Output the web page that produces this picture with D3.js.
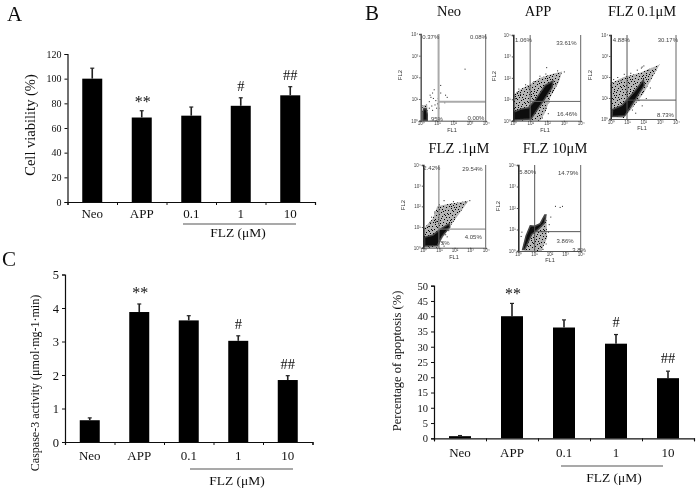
<!DOCTYPE html>
<html><head><meta charset="utf-8">
<script src="https://cdn.jsdelivr.net/npm/d3@7/dist/d3.min.js"></script>
<style>html,body{margin:0;background:#fff}svg{display:block}</style></head>
<body><svg id="c" width="697" height="491"></svg>
<script>
// ---------- bar chart data ----------
const categories = ["Neo","APP","0.1","1","10"];
const viability = [100,68.5,70,78,86.5];
const viabilityTop = [108.5,74,77,84.5,93.5];
const viabilityMarks = ["","**","","#","##"];
const caspase = [0.65,3.88,3.63,3.02,1.85];
const caspaseTop = [0.72,4.12,3.77,3.17,1.98];
const caspaseMarks = ["","**","","#","##"];
const apoptosis = [0.7,40,36.3,31,19.7];
const apoptosisTop = [0.9,44.2,38.8,34,22];
const apoptosisMarks = ["","**","","#","##"];
const viabilityTicks = [0,20,40,60,80,100,120];
const caspaseTicks = [0,1,2,3,4,5];
const apoptosisTicks = [0,5,10,15,20,25,30,35,40,45,50];
const groupLabel = "FLZ (μM)";

// ---------- flow cytometry data, in decades of FL1 / FL2 ----------
const flowTitles = ["Neo","APP","FLZ 0.1μM","FLZ .1μM","FLZ 10μM"];
const flowTicks = [0,1,2,3,4];
const flowGates = [[1.1,0.88],[1.0,0.9],[1.0,0.9],[1.0,0.9],[1.05,0.9]];
const flowPercents = [
 [["0.37%",.62,3.85],["0.08%",3.55,3.85],[".95%",.95,.1],["0.00%",3.4,.15]],
 [["1.06%",.6,3.75],["33.61%",3.15,3.65],["16.46%",3.2,.32]],
 [["4.88%",.65,3.75],["30.17%",3.5,3.75],["8.73%",3.35,.2]],
 [["2.42%",.55,3.85],["29.54%",3.15,3.8],["4.05%",3.2,.5],["75%",1.3,.25]],
 [["5.80%",.6,3.7],["14.79%",3.2,3.65],["3.86%",3,.45],["3.8%",3.9,.05]]
];
const flowCloud = [
 [[.1,0],[.1,.7],[.4,.75],[.45,0]],
 [[0,0],[0,1.2],[.5,1.5],[1,1.7],[1.6,2],[2.4,2.2],[2.9,2.3],[2.7,1.8],[2.2,1.1],[1.9,.4],[1.6,0]],
 [[0,.1],[0,1.7],[.8,2],[1.8,2.2],[3,2.6],[2,1.2],[1.2,.4],[.8,.05]],
 [[0,0],[0,.9],[.6,1.4],[.9,2],[1.5,2.1],[2.3,2.2],[2.9,2.27],[1.5,.8],[1.1,.3],[1,0]],
 [[.4,0],[.85,.8],[1.3,1],[1.8,1.6],[1.85,.6],[1.6,.2],[1.5,0]]
];
const flowDense = [
 [[.14,.02],[.14,.4],[.2,.55],[.33,.55],[.4,.3],[.4,.02]],
 [[.03,.03],[.03,.4],[.5,.55],[.9,.6],[1.3,.95],[1.9,1.65],[2.35,1.85],[2.3,1.55],[1.8,.95],[1.3,.38],[1.05,.08]],
 [[.08,.12],[.12,.45],[.7,.65],[1.5,1.35],[2,1.85],[2.05,1.6],[1.2,.55],[.85,.15]],
 [[.08,.08],[.08,.5],[.6,.6],[1.1,.9],[1.65,1.15],[1.7,1],[1.2,.55],[.9,.1]],
 [[.28,.07],[.5,.7],[.77,1.17],[1.06,1.15],[1.4,1.27],[1.7,1.67],[1.77,1.67],[1.67,1.3],[1.28,1.02],[.85,.77],[.41,.07]]
];
const flowDots = [
 [[.5,.9],[.6,1.1],[.7,1.3],[.8,1.45],[.55,1.2],[.75,1.05],[.9,.95],[1,.8],[.85,.75],[.65,.7],[1.05,1.05],[.95,.6],[1.2,1.3],[1.2,1.65],[1.5,1.2],[1.6,1.1],[1.45,.85],[2.7,2.4],[.5,.6],[.7,.5],[1.1,.6]],
 [[.2,1.35],[.4,1.25],[.7,1.7],[.9,1.55],[1.2,1.85],[1.55,2.1],[1.9,2.2],[2.6,2.35],[3,2.3],[1.95,2.5],[2.3,1.4],[2.5,1.7],[2.1,.9],[1.9,.6],[2.05,.35],[1.7,.15],[.3,1.5],[.1,1.05]],
 [[.15,1.9],[.4,2],[.8,2.15],[1.2,2.2],[1.6,2.35],[1.9,2.5],[2,2.55],[1.85,2.45],[2.3,2.35],[.6,1.85],[1.3,.45],[1.5,.3],[1.9,.65],[1.7,.9],[2.15,1],[2.4,1.5]],
 [[.5,1.5],[.7,1.75],[1,2.1],[1.3,2.3],[.8,1.3],[1.9,2.25],[2.4,2.15],[2.95,2.3],[2.7,2.2],[.3,1.05],[.4,1.25],[1.4,.65],[1.5,.55],[1.2,.25],[1.3,.1],[1.6,.85]],
 [[2.35,2.1],[2.65,2.05],[2.8,2.1],[.9,1.05],[1.95,1.25],[1.9,.9],[1.75,.35],[1.55,.1],[.15,.7],[.2,.9],[2.05,1.6]]
];

// ---------- layout (not data) ----------
const barLayouts = [
 {x0:67.5,x1:315,yTop:54,yBot:202,barW:20,tickSize:10,catY:218,lab:"Cell viability (%)",labX:30,labY:125,labSize:14.5,
  vals:viability,tops:viabilityTop,marks:viabilityMarks,ticks:viabilityTicks,max:120,catSize:13,
  brk:[183,296,224],grpX:238,grpY:237,star:-4,hash:-7},
 {x0:65,x1:312.5,yTop:274.5,yBot:442,barW:20,tickSize:12.5,catY:460,lab:"Caspase-3 activity (μmol·mg-1·min)",labX:35,labY:383,labSize:12,
  vals:caspase,tops:caspaseTop,marks:caspaseMarks,ticks:caspaseTicks,max:5,catSize:13,
  brk:[190,293,469],grpX:237,grpY:485,star:-6,hash:-7},
 {x0:434,x1:694,yTop:285.7,yBot:438.3,barW:22,tickSize:10.5,catY:457,lab:"Percentage of apoptosis (%)",labX:397,labY:361,labSize:12.5,
  vals:apoptosis,tops:apoptosisTop,marks:apoptosisMarks,ticks:apoptosisTicks,max:50,catSize:13,
  brk:[561,663,466],grpX:614,grpY:482,star:-4.5,hash:-8}
];
const flowLayouts = [
 {l:420.7,r:485.7,t:34,b:120.7,tx:449,ty:16,gate:"#aaa",gw:2,axis:"#555",fl2x:402,fl2y:75,fl1x:452,fl1y:132},
 {l:513.3,r:580.7,t:35,b:120.7,tx:538,ty:16,gate:"#666",gw:1,axis:"#222",fl2x:496,fl2y:76,fl1x:545,fl1y:132},
 {l:610.7,r:676,t:35,b:119,tx:642,ty:16,gate:"#555",gw:1,axis:"#222",fl2x:592,fl2y:75,fl1x:642,fl1y:130},
 {l:423.3,r:485.7,t:165,b:247.7,tx:459,ty:153,gate:"#777",gw:1,axis:"#222",fl2x:405,fl2y:205,fl1x:454,fl1y:259},
 {l:518.3,r:580.7,t:165,b:251,tx:555,ty:153,gate:"#555",gw:1,axis:"#222",fl2x:500,fl2y:206,fl1x:550,fl1y:262}
];
const panelLetters = [["A",7,21],["B",365,19.5],["C",2,266]];
const speckle = [[0,2],[1,9],[1,14],[2,5],[3,0],[3,11],[4,7],[5,3],[5,13],[6,9],[7,1],[7,6],[8,12],[8,15],[9,4],[10,8],[10,1],[11,14],[12,6],[12,11],[13,2],[14,9],[14,15],[15,5],[15,12],[6,15],[2,12],[11,3],[9,10],[4,2],[13,7],[0,6],[6,11],[3,14]];

const SERIF = "'Liberation Serif','Times New Roman',serif";
const SANS = "'Liberation Sans',Arial,sans-serif";
const svg = d3.select("#c");
const defs = svg.append("defs");
defs.append("filter").attr("id","soft").append("feGaussianBlur").attr("stdDeviation",0.35);
defs.append("filter").attr("id","softer").append("feGaussianBlur").attr("stdDeviation",0.45);
const pattern = defs.append("pattern").attr("id","stip").attr("width",16).attr("height",16).attr("patternUnits","userSpaceOnUse");
pattern.append("rect").attr("width",16).attr("height",16).attr("fill","#b4b4b4");
speckle.forEach(q=>pattern.append("rect").attr("x",q[0]).attr("y",q[1]).attr("width",1).attr("height",1).attr("fill","#000"));

const root = svg.append("g").attr("filter","url(#soft)");

panelLetters.forEach(d=>root.append("text").attr("x",d[1]).attr("y",d[2]).text(d[0])
  .attr("font-family",SERIF).attr("font-size",21).attr("fill","#111"));

barLayouts.forEach(L=>{
  const g = root.append("g");
  const x = d3.scaleBand().domain(categories).range([L.x0,L.x1]).paddingInner(1-L.barW/((L.x1-L.x0)/5)).paddingOuter((1-L.barW/((L.x1-L.x0)/5))/2);
  const edges = d3.scaleLinear().domain([0,categories.length]).range([L.x0,L.x1]);
  const y = d3.scaleLinear().domain([0,L.max]).range([L.yBot,L.yTop]);
  const rows = categories.map((c,i)=>({c,v:L.vals[i],top:L.tops[i],m:L.marks[i]}));
  g.selectAll("rect.bar").data(rows).join("rect").attr("class","bar")
    .attr("x",d=>x(d.c)).attr("width",x.bandwidth()).attr("y",d=>y(d.v)).attr("height",d=>y(0)-y(d.v)).attr("fill","#000");
  g.selectAll("line.err").data(rows).join("line").attr("class","err")
    .attr("x1",d=>x(d.c)+x.bandwidth()/2).attr("x2",d=>x(d.c)+x.bandwidth()/2)
    .attr("y1",d=>y(d.v)).attr("y2",d=>y(d.top)).attr("stroke","#222").attr("stroke-width",1.6);
  g.selectAll("line.cap").data(rows).join("line").attr("class","cap")
    .attr("x1",d=>x(d.c)+x.bandwidth()/2-2).attr("x2",d=>x(d.c)+x.bandwidth()/2+2)
    .attr("y1",d=>y(d.top)).attr("y2",d=>y(d.top)).attr("stroke","#222").attr("stroke-width",1.2);
  g.selectAll("text.mark").data(rows.filter(d=>d.m)).join("text").attr("class","mark")
    .attr("x",d=>x(d.c)+x.bandwidth()/2+(d.m==="**"?1:0))
    .attr("y",d=>y(d.top)+(d.m==="**"?L.star:L.hash)).text(d=>d.m).attr("text-anchor","middle")
    .attr("font-family",SERIF).attr("font-size",d=>d.m==="**"?16:14.5).attr("fill","#111");

  const ya = g.append("g").attr("transform",`translate(${L.x0},0)`).call(d3.axisLeft(y).tickValues(L.ticks).tickSize(3).tickPadding(3).tickFormat(d3.format("d")));
  ya.selectAll("text").attr("font-family",SERIF).attr("font-size",L.tickSize).attr("fill","#111");
  const xa = g.append("g").attr("transform",`translate(0,${L.yBot})`).call(d3.axisBottom(edges).tickValues(d3.range(0,6)).tickSize(3).tickFormat(""));
  [ya,xa].forEach(a=>{a.selectAll("path").attr("stroke","#111").attr("stroke-width",1.2);a.selectAll("line").attr("stroke","#111").attr("stroke-width",1);});
  g.selectAll("text.cat").data(categories).join("text").attr("class","cat")
    .attr("x",d=>x(d)+x.bandwidth()/2).attr("y",L.catY).text(d=>d).attr("text-anchor","middle")
    .attr("font-family",SERIF).attr("font-size",L.catSize).attr("fill","#111");
  g.append("text").attr("transform",`translate(${L.labX},${L.labY}) rotate(-90)`).text(L.lab).attr("text-anchor","middle")
    .attr("dy","0.35em").attr("font-family",SERIF).attr("font-size",L.labSize).attr("fill","#111");
  g.append("line").attr("x1",L.brk[0]).attr("x2",L.brk[1]).attr("y1",L.brk[2]).attr("y2",L.brk[2]).attr("stroke","#555").attr("stroke-width",1);
  g.append("text").attr("x",L.grpX).attr("y",L.grpY).text(groupLabel).attr("text-anchor","middle")
    .attr("font-family",SERIF).attr("font-size",13.5).attr("fill","#111");
});

const sup = ["⁰","¹","²","³","⁴"];
const area = d3.line().curve(d3.curveLinearClosed);
const flowRoot = svg.append("g").attr("filter","url(#softer)");
flowLayouts.forEach((L,i)=>{
  const g = flowRoot.append("g");
  const x = d3.scaleLinear().domain([0,4]).range([L.l,L.r]);
  const y = d3.scaleLinear().domain([0,4]).range([L.b,L.t]);
  const P = d=>[x(d[0]),y(d[1])];
  g.append("path").attr("d",area(flowCloud[i].map(P))).attr("fill","url(#stip)");
  g.append("path").attr("d",area(flowDense[i].map(P))).attr("fill","#0a0a0a").attr("stroke","#444").attr("stroke-width",1.5);
  g.selectAll("rect.dot").data(flowDots[i]).join("rect").attr("class","dot")
    .attr("x",d=>x(d[0])).attr("y",d=>y(d[1])).attr("width",1).attr("height",1).attr("fill","#222");
  // gates
  g.append("line").attr("x1",x(flowGates[i][0])).attr("x2",x(flowGates[i][0])).attr("y1",L.t).attr("y2",L.b).attr("stroke",L.gate).attr("stroke-width",L.gw);
  g.append("line").attr("x1",x(flowGates[i][0])).attr("x2",L.r).attr("y1",y(flowGates[i][1])).attr("y2",y(flowGates[i][1])).attr("stroke",L.gate).attr("stroke-width",L.gw);
  g.append("line").attr("x1",L.r).attr("x2",L.r).attr("y1",L.t).attr("y2",L.b).attr("stroke","#666").attr("stroke-width",1);
  const fmt = d=>"10"+sup[d];
  const ya = g.append("g").attr("transform",`translate(${L.l},0)`).call(d3.axisLeft(y).tickValues(flowTicks).tickSize(1.5).tickPadding(1).tickFormat(fmt));
  const xa = g.append("g").attr("transform",`translate(0,${L.b})`).call(d3.axisBottom(x).tickValues(flowTicks).tickSize(1.5).tickPadding(0).tickFormat(fmt));
  [ya,xa].forEach(a=>{a.selectAll("text").attr("font-family",SANS).attr("font-size",4.5).attr("fill","#444");
    a.selectAll("line").attr("stroke","#555");});
  ya.select("path").attr("stroke",L.axis).attr("stroke-width",1.5);
  xa.select("path").attr("stroke","#555").attr("stroke-width",1);
  g.append("text").attr("x",L.fl1x).attr("y",L.fl1y).text("FL1").attr("text-anchor","middle").attr("font-family",SANS).attr("font-size",5.5).attr("fill","#333");
  g.append("text").attr("transform",`translate(${L.fl2x},${L.fl2y}) rotate(-90)`).text("FL2").attr("text-anchor","middle").attr("font-family",SANS).attr("font-size",6).attr("fill","#333");
  g.selectAll("text.pct").data(flowPercents[i]).join("text").attr("class","pct")
    .attr("x",d=>x(d[1])).attr("y",d=>y(d[2])).attr("dy","0.35em").text(d=>d[0]).attr("text-anchor","middle")
    .attr("font-family",SANS).attr("font-size",6).attr("fill","#444");
  root.append("text").attr("x",L.tx).attr("y",L.ty).text(flowTitles[i]).attr("text-anchor","middle")
    .attr("font-family",SERIF).attr("font-size",14.5).attr("fill","#111");
});
</script></body></html>
